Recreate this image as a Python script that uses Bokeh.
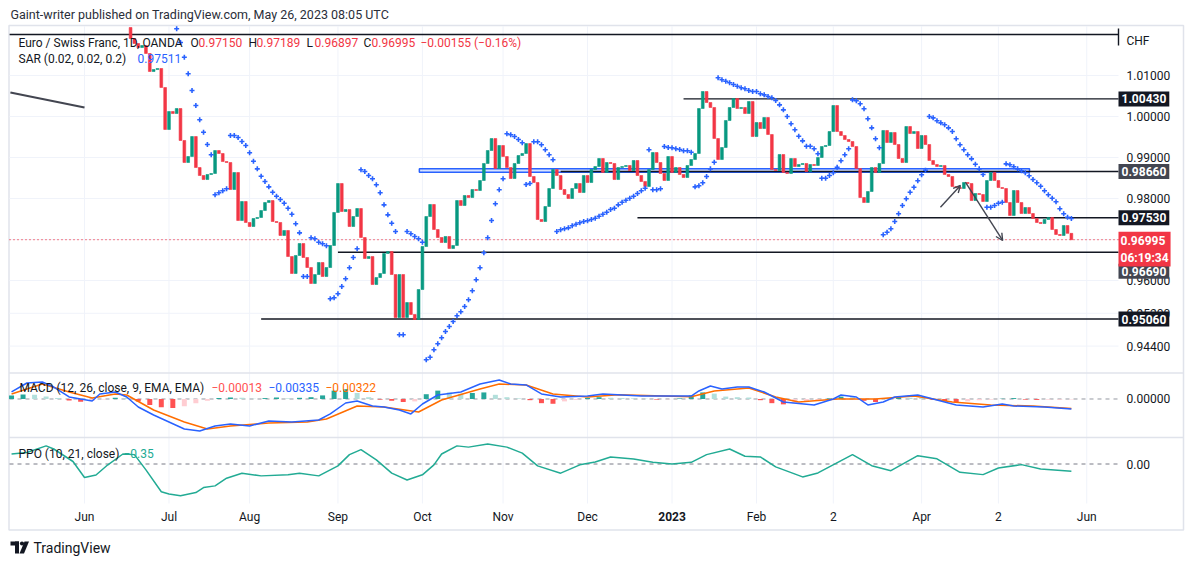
import numpy as np
import pandas as pd
from bokeh.plotting import figure
from bokeh.models import Range1d, Label, Arrow, OpenHead
from bokeh.core.properties import value
from bokeh.embed import file_html
from bokeh.resources import INLINE

# ---------------- data ----------------
FIRST_OPEN = 1.02171
closes = [
 1.01902, 1.01781, 1.01683, 1.01732, 1.01537, 1.01098, 1.01146, 1.01171, 1.00707, 0.99683,
 1.00122, 1.00073, 1.00195, 0.99415, 0.98878, 0.99024, 0.99512, 0.98756, 0.98561, 0.98463,
 0.98585, 0.98610, 0.99171, 0.99098, 0.98902, 0.98878, 0.98220, 0.98634, 0.97463, 0.97927,
 0.97415, 0.97317, 0.97512, 0.97537, 0.97707, 0.97902, 0.97951, 0.97439, 0.97415, 0.97098,
 0.97220, 0.96585, 0.96171, 0.96610, 0.96902, 0.96561, 0.96317, 0.95927, 0.96146, 0.96439,
 0.96098, 0.96317, 0.96854, 0.97659, 0.98366, 0.97683, 0.97732, 0.97317, 0.97561, 0.97756,
 0.97049, 0.96537, 0.96585, 0.95902, 0.96073, 0.96171, 0.96659, 0.96707, 0.96146, 0.95098,
 0.96146, 0.95098, 0.95463, 0.95171, 0.95049, 0.95780, 0.96829, 0.97561, 0.97854, 0.97244,
 0.97049, 0.96927, 0.97073, 0.96780, 0.96854, 0.97951, 0.97829, 0.98073, 0.98024, 0.98220,
 0.98195, 0.98439, 0.98854, 0.99171, 0.99463, 0.98732, 0.99293, 0.99024, 0.98756, 0.98488,
 0.98854, 0.99049, 0.99098, 0.99341, 0.98537, 0.98390, 0.97488, 0.97439, 0.97805, 0.98244,
 0.98707, 0.98561, 0.98220, 0.98098, 0.98000, 0.98244, 0.98366, 0.98146, 0.98561, 0.98390,
 0.98707, 0.98780, 0.98976, 0.98634, 0.98878, 0.98854, 0.98463, 0.98756, 0.98780, 0.98805,
 0.98683, 0.98927, 0.98561, 0.98415, 0.98293, 0.98707, 0.99122, 0.98878, 0.98610, 0.98439,
 0.99024, 0.98634, 0.98756, 0.98585, 0.98512, 0.98805, 0.98951, 0.99098, 1.00195, 1.00610,
 1.00342, 1.00220, 0.99463, 0.98951, 0.99244, 0.99902, 1.00220, 1.00439, 1.00195, 1.00220,
 1.00073, 1.00366, 0.99512, 0.99854, 0.99707, 0.99976, 0.99561, 0.98707, 0.98683, 0.99073,
 0.98634, 0.98610, 0.98976, 0.98780, 0.98829, 0.98854, 0.98659, 0.98829, 0.98805, 0.99000,
 0.99268, 0.99293, 0.99634, 1.00268, 0.99634, 0.99537, 0.99439, 0.99390, 0.99268, 0.98732,
 0.98024, 0.97902, 0.98171, 0.98756, 0.98634, 0.98854, 0.99659, 0.99366, 0.99610, 0.99317,
 0.98976, 0.98878, 0.99756, 0.99585, 0.99634, 0.99220, 0.99537, 0.99317, 0.98927, 0.98829,
 0.98780, 0.98805, 0.98585, 0.98537, 0.98293, 0.98268, 0.98244, 0.98390, 0.98366, 0.97951,
 0.98122, 0.98098, 0.97927, 0.98439, 0.98634, 0.98439, 0.98268, 0.98244, 0.97902, 0.97585,
 0.98195, 0.97902, 0.97634, 0.97780, 0.97634, 0.97512, 0.97415, 0.97390, 0.97488, 0.97537,
 0.97244, 0.97122, 0.97098, 0.97341, 0.97150, 0.96995]
LAST_DATE = "2023-05-26"

sar = [None] * 12 + [
 1.02139, 1.01805, 1.01446, 1.01042, 1.00634, 1.00268, 0.99920, 0.99617, 0.99317, 0.99066,
 0.98090, 0.98139, 0.98188, 0.98237, 0.99537, 0.99537, 0.99488, 0.99390, 0.99293, 0.99115,
 0.98910, 0.98724, 0.98544, 0.98415, 0.98285, 0.98154, 0.98056, 0.97976, 0.97885, 0.97763,
 0.97617, 0.97383, 0.97163, 0.96098, 0.96098, 0.97042, 0.97017, 0.96934, 0.96895, 0.96846,
 0.95554, 0.95578, 0.95676, 0.95854, 0.96042, 0.96310, 0.96561, 0.96773, 0.98700, 0.98659,
 0.98561, 0.98481, 0.98334, 0.98139, 0.97846, 0.97602, 0.97398, 0.97195, 0.94676, 0.94676,
 0.97195, 0.97139, 0.97073, 0.97017, 0.96934, 0.94066, 0.94129, 0.94310, 0.94456, 0.94603,
 0.94756, 0.94878, 0.95000, 0.95139, 0.95237, 0.95366, 0.95529, 0.95749, 0.96017, 0.96310,
 0.96676, 0.97042, 0.97463, 0.97871, 0.98212, 0.98481, 0.99578, 0.99554, 0.99512, 0.99439,
 0.99359, 0.98342, 0.98366, 0.99383, 0.99383, 0.99310, 0.99188, 0.99066, 0.98944, 0.97195,
 0.97237, 0.97261, 0.97285, 0.97334, 0.97373, 0.97407, 0.97439, 0.97456, 0.97488, 0.97520,
 0.97568, 0.97617, 0.97666, 0.97732, 0.97763, 0.97846, 0.97910, 0.97959, 0.98007, 0.98056,
 0.98122, 0.98188, 0.98251, 0.99188, 0.98212, 0.98212, 0.98237, 0.99268, 0.99244, 0.99237,
 0.99212, 0.99195, 0.99164, 0.99164, 0.99129, 0.98285, 0.98310, 0.98383, 0.98537, 0.98724,
 0.98885, 1.00944, 1.00895, 1.00861, 1.00822, 1.00781, 1.00739, 1.00700, 1.00676, 1.00634,
 1.00610, 1.00610, 1.00554, 1.00529, 1.00488, 1.00456, 1.00390, 1.00285, 1.00163, 1.00000,
 0.99822, 0.99676, 0.99520, 0.99407, 0.99276, 0.99276, 0.99212, 0.99090, 0.98495, 0.98495,
 0.98561, 0.98627, 0.98764, 0.98920, 0.99066, 0.99212, 1.00407, 1.00383, 1.00310, 1.00188,
 0.99944, 0.99724, 0.99456, 0.99237, 0.97115, 0.97178, 0.97261, 0.97439, 0.97627, 0.97829,
 0.97993, 0.98154, 0.98276, 0.98432, 0.98578, 0.98690, 1.00000, 0.99968, 0.99895, 0.99846,
 0.99798, 0.99724, 0.99634, 0.99456, 0.99310, 0.99188, 0.99066, 0.98968, 0.98837, 0.98724,
 0.98585, 0.97788, 0.97788, 0.97829, 0.97885, 0.97910, 0.98846, 0.98822, 0.98773, 0.98724,
 0.98676, 0.98627, 0.98554, 0.98463, 0.98383, 0.98300, 0.98188, 0.98090, 0.98007, 0.97920,
 0.97749, 0.97627, 0.97544, 0.97511]

# indicator samples: positions are trading-day offsets from 2022-06-01
macd_d = [-19,-15,-11,-8,-4,2,4,8,11,14,18,22,26,30,34,38,43,48,54,61,64,68,71,75,78,82,85,88,92,98,
          103,108,111,115,119,124,131,135,145,158,160,163,166,170,173,177,182,190,195,197,201,204,208,
          211,217,221,227,234,239,242,250,257]
macd_v = [0.00235,0.00536,0.0057,0.0040,0.00067,-0.00067,0.00168,0.00235,0.00067,-0.00268,-0.00536,
          -0.0077,-0.01005,-0.0107,-0.00905,-0.0084,-0.00905,-0.00737,-0.0077,-0.00704,-0.005,-0.00134,
          -0.00067,-0.00235,-0.00268,-0.00369,-0.005,-0.00168,0.00134,0.00235,0.005,0.00637,0.005,0.0047,
          0.00168,0.00067,0.001,0.00168,0.001,0.001,0.00268,0.00436,0.00335,0.004,0.004,0.00235,-0.001,
          -0.002,0.0,0.00134,0.00067,-0.002,-0.001,0.00067,0.00134,0.0,-0.002,-0.00268,-0.00168,-0.00235,
          -0.00268,-0.00335]
signal_d = [-19,-11,-4,2,8,11,18,26,32,38,48,58,63,71,78,87,93,103,108,115,122,131,139,158,164,173,
            180,186,196,206,216,226,236,247,257]
signal_v = [0.00168,0.005,0.00235,0.00034,0.00168,0.00134,-0.00369,-0.0077,-0.01005,-0.00905,-0.00804,
            -0.0077,-0.0067,-0.00235,-0.00268,-0.00436,-0.00034,0.00335,0.005,0.0047,0.00168,0.00067,
            0.00144,0.00077,0.00268,0.00369,0.00067,-0.001,0.0,0.0,0.001,-0.001,-0.002,-0.00235,-0.00322]
hist_d = list(range(-19, 258, 3))
hist_v = [0.0012,0.0015,0.0014,0.0008,0.0003,-0.0005,-0.0009,-0.0006,-0.0002,0.0004,
          0.0003,-0.0008,-0.0020,-0.0028,-0.0030,-0.0024,-0.0014,-0.0006,0.0003,0.0005,
          0.0004,0.0001,0.0003,0.0005,0.0002,0.0004,0.0006,0.0012,0.0028,0.0033,
          0.0020,0.0006,-0.0002,-0.0006,-0.0010,-0.0008,0.0016,0.0028,0.0022,0.0018,
          0.0020,0.0022,0.0014,0.0006,0.0002,-0.0004,-0.0014,-0.0016,-0.0008,-0.0003,
          0.0004,0.0006,0.0004,0.0003,0.0002,0.0001,-0.0002,-0.0001,0.0002,0.0012,
          0.0022,0.0018,0.0008,0.0006,0.0005,-0.0004,-0.0014,-0.0018,-0.0015,-0.0008,
          -0.0004,0.0002,0.0008,0.0006,-0.0006,-0.0010,0.0002,0.0006,0.0004,0.0003,
          -0.0003,-0.0008,-0.0010,-0.0008,-0.0004,-0.0002,0.0001,0.0003,-0.0002,-0.0003,
          -0.0002,-0.0002,-0.00013]
ppo_d = [-19,-15,-10,-8,-3,0,3,6,10,13,16,20,22,25,29,31,34,37,41,46,53,56,61,66,69,72,76,80,84,88,
         91,93,97,100,105,110,114,118,124,129,133,137,143,148,153,158,162,168,172,176,180,187,191,200,
         205,210,217,222,228,234,238,244,249,257]
ppo_v = [0.48,0.55,0.87,0.72,0.12,-0.65,-0.53,-0.05,0.48,0.45,-0.28,-1.33,-1.44,-1.52,-1.37,-1.13,
         -1.05,-0.68,-0.44,-0.57,-0.52,-0.44,-0.57,-0.09,0.45,0.69,0.2,-0.44,-0.77,-0.52,-0.04,0.48,
         0.87,0.81,0.96,0.81,0.52,-0.09,-0.44,-0.04,0.1,0.34,0.24,0.08,0.0,0.08,0.45,0.72,0.37,0.34,
         -0.14,-0.62,-0.43,0.45,-0.08,-0.32,0.4,0.25,-0.4,-0.51,-0.19,-0.03,-0.24,-0.35]

# drawings
level_prices = [1.02000, 1.00430, 0.98660, 0.97530, 0.96690, 0.95060]
level_start_d = [-19.5, 156, 124, 144, 66, 46]
level_box = ["", "#131722", "#434651", "#131722", "#434651", "#131722"]
level_box_shift = [0, 0, 0, 0, -19, 0]   # label pushed down by the price scale to avoid overlap
trend_d = [-19.3, 0]
trend_p = [1.00585, 1.00220]
zone_d = [87.2, 246.1]
zone_p = [0.98642, 0.98724]
arrow1 = [222.9, 0.97788, 228.1, 0.98317]
arrow2 = [229.4, 0.98398, 239.1, 0.96976]

price_ticks = [1.01, 1.00, 0.99, 0.98, 0.97, 0.96, 0.952, 0.944]
price_tick_shown = [True, True, True, True, False, True, True, True]
month_starts = ["2022-06-01","2022-07-01","2022-08-01","2022-09-01","2022-10-03","2022-11-01",
                "2022-12-01","2023-01-02","2023-02-01","2023-03-01","2023-04-03","2023-05-01","2023-06-01"]
month_labels = ["Jun","Jul","Aug","Sep","Oct","Nov","Dec","2023","Feb","2","Apr","2","Jun"]

LAST = dict(o=0.97150, h=0.97189, l=0.96897, c=0.96995, chg="\u22120.00155 (\u22120.16%)",
            countdown="06:19:34")

# ---------------- layout (page pixels) ----------------
W, H = 1190, 560
PX_PER_DAY = 3.84          # horizontal bar spacing
D0_X = 84                  # page x of 2022-06-01
LEFT_X, PANE_RIGHT_X, RIGHT_X = 9, 1118, 1183
MAIN = (25, 372.5, 1.02220, 0.93744)     # page top, page bottom, value at top, value at bottom
MACD = (373, 437, 0.00854, -0.0129)
PPO = (437, 503, 1.272, -1.896)
AXIS_BOTTOM = 529.5

def pane_range(top, bot, vtop, vbot):
    s = (vtop - vbot) / (bot - top)
    return (vbot - (H - bot) * s, vtop + top * s)

main_r = pane_range(*MAIN)
macd_r = pane_range(*MACD)
ppo_r = pane_range(*PPO)

def dx(page_x):
    return (page_x - D0_X) / PX_PER_DAY

def my(page_y):
    return main_r[1] - page_y * (main_r[1] - main_r[0]) / H

cal = pd.bdate_range("2022-04-01", "2023-07-31")
pos = {d: i for i, d in enumerate(cal)}
origin = pos[pd.Timestamp("2022-06-01")]
def tday(s):
    return pos[pd.Timestamp(s)] - origin

n = len(closes)
last = tday(LAST_DATE)
bar_d = np.arange(last - n + 1, last + 1)
opens = [FIRST_OPEN] + closes[:-1]

p = figure(width=W, height=H, output_backend="svg", toolbar_location=None,
           x_range=Range1d(dx(0), dx(W)), y_range=Range1d(*main_r), min_border=0)
p.extra_y_ranges = {"macd": Range1d(*macd_r), "ppo": Range1d(*ppo_r)}
p.xaxis.visible = False
p.yaxis.visible = False
p.grid.visible = False
p.outline_line_color = None
p.background_fill_color = "white"
p.border_fill_color = "white"

FONT = "Roboto"
TXT = "#131722"
GRID = "#f0f3fa"
XL, XR, XRR = dx(LEFT_X), dx(PANE_RIGHT_X), dx(RIGHT_X)

# chart border
p.quad(left=[dx(8.5)], right=[XRR], top=[my(25)], bottom=[my(AXIS_BOTTOM)],
       fill_color=None, line_color="#e0e3eb", line_width=1.5)

# grids
month_d = [int(tday(m)) for m in month_starts]
p.segment(x0=month_d, x1=month_d, y0=[my(25.5)] * len(month_d), y1=[my(503)] * len(month_d),
          line_color=GRID, line_width=1)
p.segment(x0=[XL] * len(price_ticks), x1=[XR] * len(price_ticks), y0=price_ticks, y1=price_ticks,
          line_color=GRID, line_width=1)

# pane separators
for yy in (372.5, 437):
    p.segment(x0=[dx(8.5)], x1=[XRR], y0=[my(yy)], y1=[my(yy)], line_color="#e0e3eb", line_width=1.5)

# zero lines of the sub panes
p.segment(x0=[XL], x1=[XR], y0=[0], y1=[0], y_range_name="macd", line_color="#9598a1",
          line_dash="4 4", line_width=1)
p.segment(x0=[XL], x1=[XR], y0=[0], y1=[0], y_range_name="ppo", line_color="#787b86",
          line_dash="4 4", line_width=1)

# zone rectangle
p.quad(left=[zone_d[0]], right=[zone_d[1]], bottom=[zone_p[0]], top=[zone_p[1]],
       fill_color="#2962ff", fill_alpha=0.18, line_color="#2962ff", line_width=1.5)

# horizontal levels
p.segment(x0=[max(s, XL) for s in level_start_d], x1=[XR] * len(level_prices),
          y0=level_prices, y1=level_prices, line_color="#131722", line_width=1.4)
p.segment(x0=[XR], x1=[XR], y0=[my(28)], y1=[my(45)], line_color="#131722", line_width=1.4)
# trend line
p.line(trend_d, trend_p, line_color="#434651", line_width=2.2)

# current price dotted line
p.segment(x0=[XL], x1=[XR], y0=[LAST["c"]], y1=[LAST["c"]], line_color="#f23645",
          line_dash="1 3", line_width=1.2)

# candles
o = np.array(opens); c = np.array(closes)
up = c >= o
top = np.maximum(o, c); bot = np.minimum(o, c)
cols = np.where(up, "#089981", "#f23645")
p.vbar(x=bar_d, top=top, bottom=bot, width=0.72, fill_color=cols, line_color=cols, line_width=0.6)

# parabolic SAR
sar_arr = np.array([np.nan if v is None else v for v in sar])
p.scatter(bar_d, sar_arr, marker="cross", size=5, line_color="#2962ff", line_width=1.6)

# arrows
for a in (arrow1, arrow2):
    p.add_layout(Arrow(x_start=a[0], y_start=a[1], x_end=a[2], y_end=a[3],
                       line_color="#434651", line_width=1.4,
                       end=OpenHead(size=7, line_color="#434651", line_width=1.4)))

# MACD pane
hv = np.array(hist_v)
prev = np.concatenate([[hv[0]], hv[:-1]])
hcol = []
for v, pv in zip(hv, prev):
    if v >= 0:
        hcol.append("#26a69a" if v >= pv else "#b2dfdb")
    else:
        hcol.append("#ff5252" if v < pv else "#ffcdd2")
p.vbar(x=hist_d, top=hist_v, bottom=0, width=1.3, y_range_name="macd",
       fill_color=hcol, line_color=None)
p.line(signal_d, signal_v, y_range_name="macd", line_color="#ff6d00", line_width=1.5)
p.line(macd_d, macd_v, y_range_name="macd", line_color="#2962ff", line_width=1.5)

# PPO pane
p.line(ppo_d, ppo_v, y_range_name="ppo", line_color="#22ab94", line_width=1.5)

# ---------------- axes drawn as text ----------------
AX_X = dx(1126)
tk = [t for t, s in zip(price_ticks, price_tick_shown) if s]
p.text(x=[AX_X] * len(tk), y=tk, text=[f"{t:.5f}" for t in tk], text_baseline="middle",
       text_align="left", text_font=value(FONT), text_font_size="12px", text_color=TXT)
p.text(x=[AX_X], y=[0], y_range_name="macd", text=["0.00000"], text_baseline="middle",
       text_align="left", text_font=value(FONT), text_font_size="12px", text_color=TXT)
p.text(x=[AX_X], y=[0], y_range_name="ppo", text=["0.00"], text_baseline="middle",
       text_align="left", text_font=value(FONT), text_font_size="12px", text_color=TXT)
p.text(x=[AX_X], y=[my(40)], text=["CHF"], text_baseline="middle",
       text_align="left", text_font=value(FONT), text_font_size="12px", text_color=TXT)
styles = ["bold" if l.isdigit() and len(l) == 4 else "normal" for l in month_labels]
p.text(x=month_d, y=[my(516)] * len(month_d), text=month_labels, text_baseline="middle",
       text_align="center", text_font=value(FONT), text_font_size="12px", text_color=TXT,
       text_font_style=styles)

# ---------------- legends / captions ----------------
def lab(x, y, text, color=TXT, size="12px", **kw):
    p.add_layout(Label(x=x, y=H - y, x_units="screen", y_units="screen", text=text,
                       text_color=color, text_font=FONT, text_font_size=size,
                       text_baseline="middle", text_align="left", **kw))

RED = "#f23645"
lab(10, 14, "Gaint-writer published on TradingView.com, May 26, 2023 08:05 UTC", "#2a2e39", "12.5px")
lab(18, 42, "Euro / Swiss Franc, 1D, OANDA")
for x, letter, val in [(190, "O", LAST["o"]), (248, "H", LAST["h"]), (306, "L", LAST["l"]), (363, "C", LAST["c"])]:
    lab(x, 42, letter)
    lab(x + 8, 42, f"{val:.5f}", RED)
lab(420, 42, LAST["chg"], RED)
lab(18, 58, "SAR (0.02, 0.02, 0.2)")
lab(137, 58, f"{sar[-1]:.5f}", "#2962ff")
lab(19, 387, "MACD (12, 26, close, 9, EMA, EMA)")
lab(211, 387, "\u2212" + f"{abs(hist_v[-1]):.5f}", "#ff5252")
lab(268, 387, "\u2212" + f"{abs(macd_v[-1]):.5f}", "#2962ff")
lab(325, 387, "\u2212" + f"{abs(signal_v[-1]):.5f}", "#ff6d00")
lab(18, 453, "PPO (10, 21, close)")
lab(123, 453, "\u2212" + f"{abs(ppo_v[-1]):.2f}", "#22ab94")
lab(33, 547, "TradingView", TXT, "14px")

# TradingView logo (simple shapes)
LOGO = "#131722"
p.quad(left=[dx(10)], right=[dx(18.5)], top=[my(541)], bottom=[my(545)], fill_color=LOGO, line_color=None)
p.quad(left=[dx(14.5)], right=[dx(18.5)], top=[my(541)], bottom=[my(553)], fill_color=LOGO, line_color=None)
p.circle(x=[dx(21.5)], y=[my(543)], radius=2.1 / PX_PER_DAY, fill_color=LOGO, line_color=None)
p.patch(x=[dx(19), dx(23.5), dx(28.5), dx(24)], y=[my(553), my(553), my(541), my(541)],
        fill_color=LOGO, line_color=None)

# price boxes on the axis
for lvl, colr, sh in zip(level_prices, level_box, level_box_shift):
    if not colr:
        continue
    p.add_layout(Label(x=XR, y=lvl, y_offset=sh, text=f"{lvl:.5f}", text_color="white",
                       text_font=FONT, text_font_size="12px", text_font_style="bold",
                       text_baseline="middle", text_align="left", background_fill_color=colr,
                       padding=3))
p.add_layout(Label(x=XR, y=LAST["c"], y_offset=8,
                   text=f"{LAST['c']:.5f}\n{LAST['countdown']}", text_color="white",
                   text_font=FONT, text_font_size="12px", text_font_style="bold",
                   text_baseline="top", text_align="left", background_fill_color=RED,
                   padding=2))

open("out.html", "w").write(file_html(p, INLINE))
